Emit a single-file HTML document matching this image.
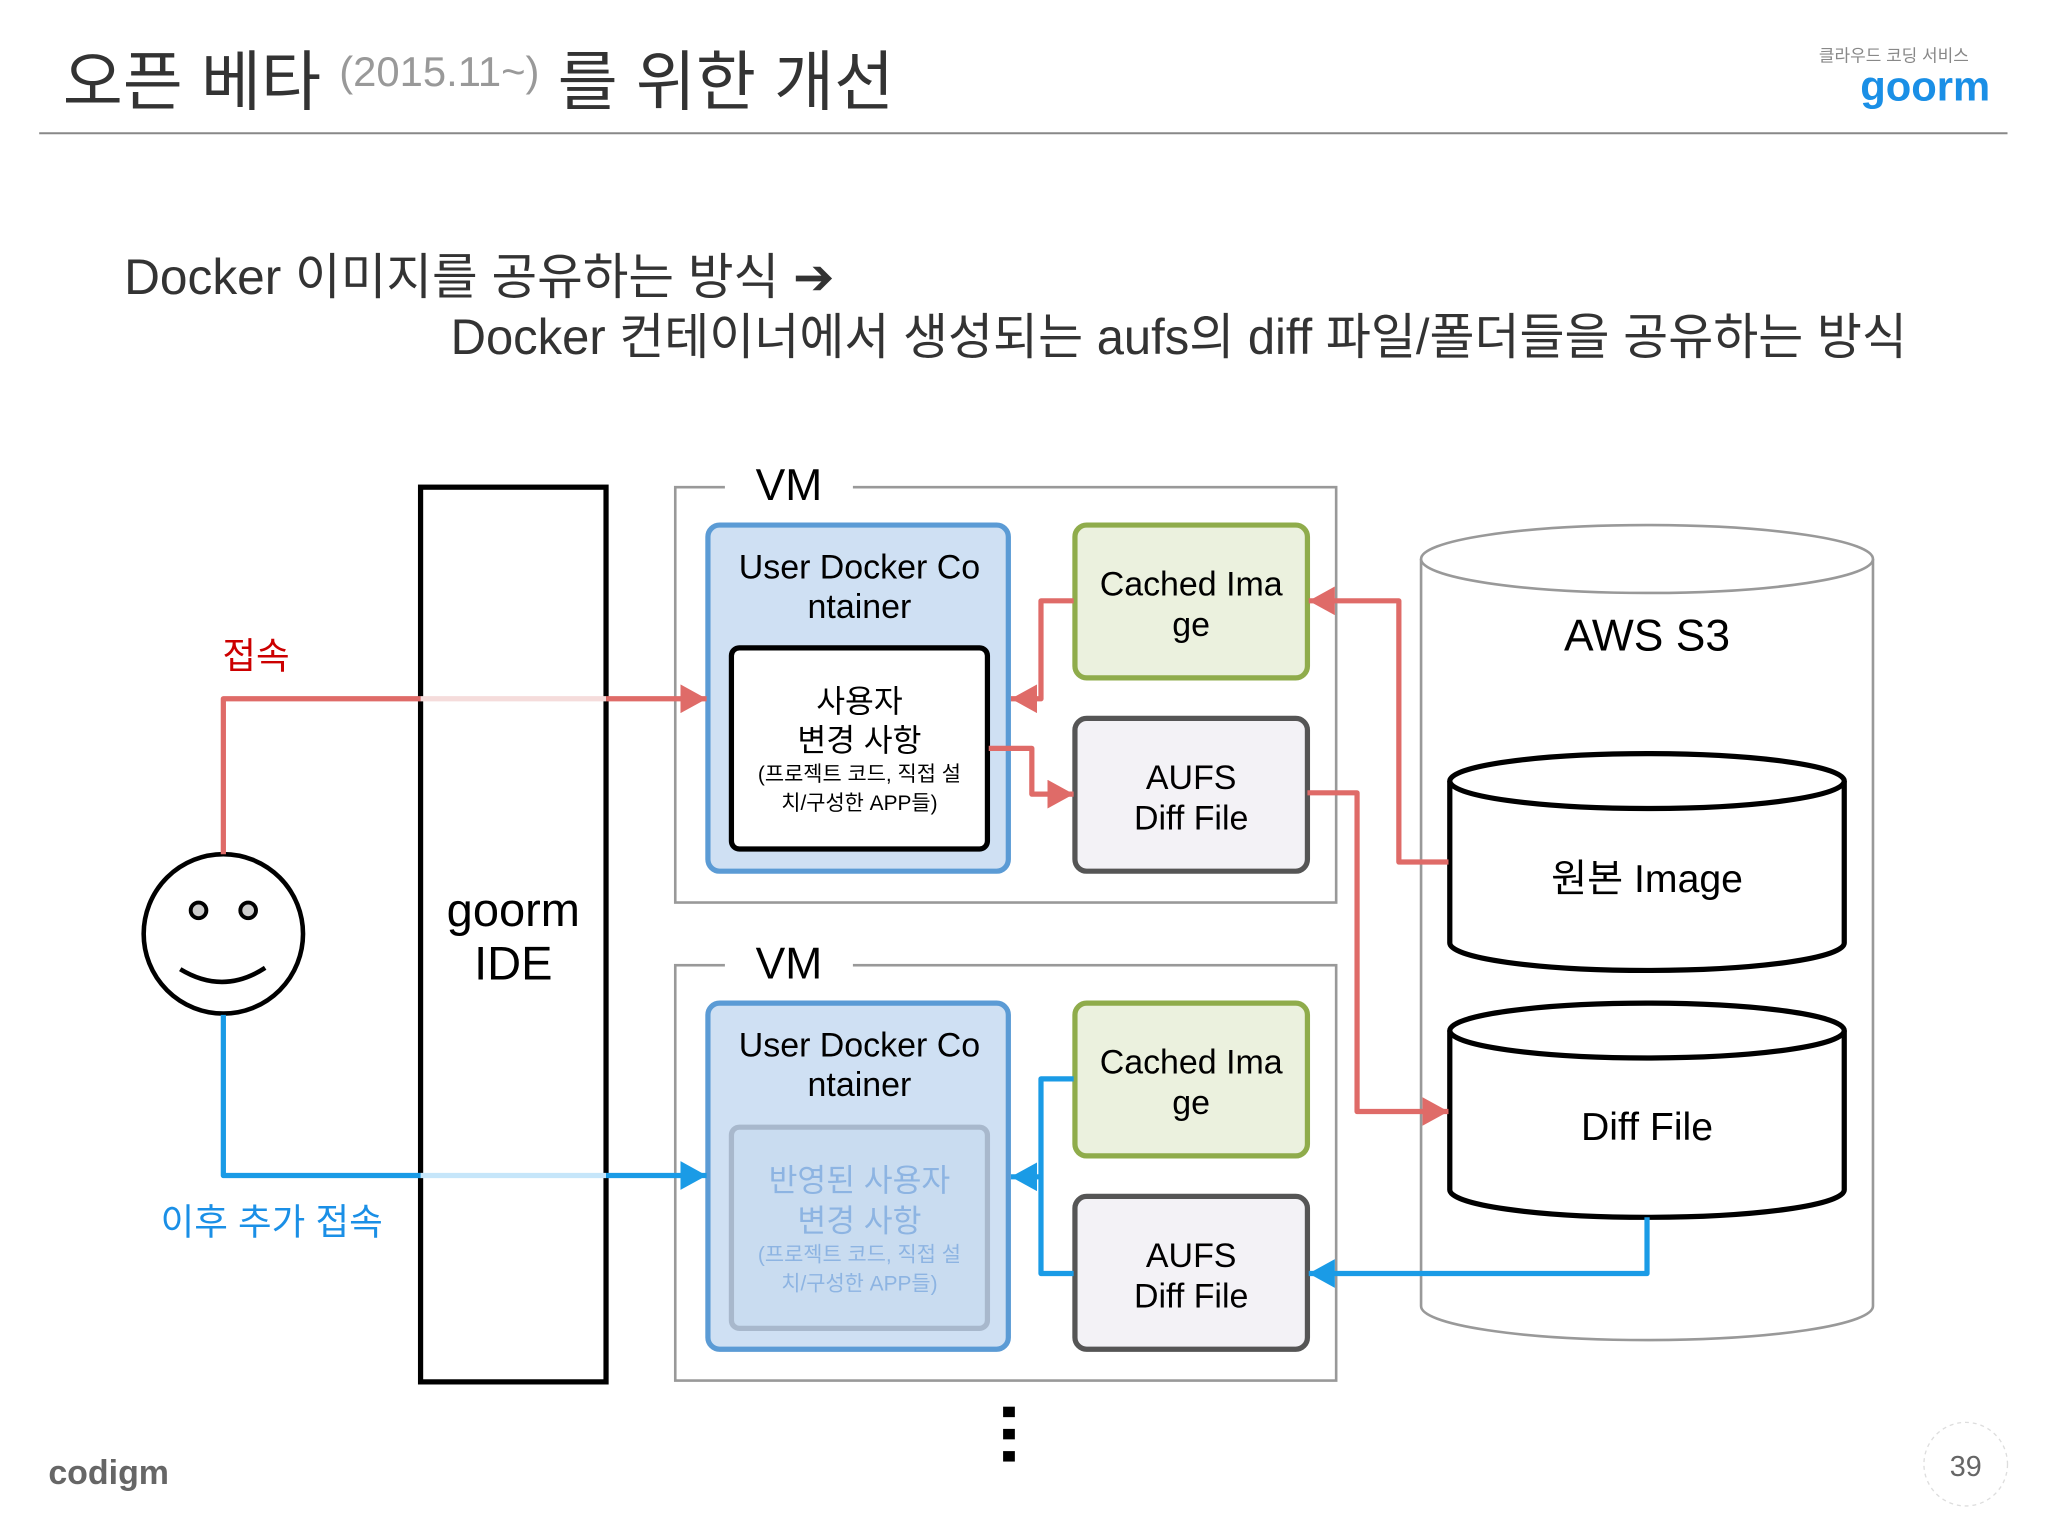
<!DOCTYPE html>
<html><head><meta charset="utf-8"><style>
html,body{margin:0;padding:0;background:#fff;}
svg{display:block;}
text{font-family:"Liberation Sans","Noto Sans CJK KR",sans-serif;}
</style></head><body>
<svg width="2048" height="1536" viewBox="0 0 1568 1176" xmlns="http://www.w3.org/2000/svg">
<defs>
<marker id="ar" markerWidth="5" markerHeight="5.5" refX="5" refY="2.75" orient="auto" markerUnits="strokeWidth"><path d="M0,0 L5,2.75 L0,5.5 z" fill="#df6b68"/></marker>
<marker id="ab" markerWidth="5" markerHeight="5.5" refX="5" refY="2.75" orient="auto" markerUnits="strokeWidth"><path d="M0,0 L5,2.75 L0,5.5 z" fill="#1a9be6"/></marker>
</defs>
<rect width="1568" height="1176" fill="#fff"/>
<!-- header -->
<text x="48" y="80" font-size="50" fill="#333">오픈 베타 <tspan font-size="32" fill="#999" dy="-14">(2015.11~)</tspan><tspan dy="14"> 를 위한 개선</tspan></text>
<line x1="30" y1="102" x2="1537" y2="102" stroke="#888" stroke-width="1.5"/>
<text x="1450" y="47" font-size="13" fill="#888" text-anchor="middle">클라우드 코딩 서비스</text>
<text x="1474" y="77" font-size="32" fill="#1a8fe6" font-weight="bold" text-anchor="middle">goorm</text>
<text x="95" y="225" font-size="38" fill="#333">Docker 이미지를 공유하는 방식 ➔</text>
<text x="345" y="271" font-size="38" fill="#333" textLength="1115" lengthAdjust="spacingAndGlyphs">Docker 컨테이너에서 생성되는 aufs의 diff 파일/폴더들을 공유하는 방식</text>

<!-- IDE -->
<rect x="322" y="373" width="142" height="685" fill="#fff" stroke="#000" stroke-width="4"/>
<text x="393" y="709" font-size="36" text-anchor="middle">goorm</text>
<text x="393" y="750" font-size="36" text-anchor="middle">IDE</text>

<!-- VM boxes -->
<rect x="517" y="373" width="506" height="318" fill="none" stroke="#999" stroke-width="2"/>
<rect x="555" y="350" width="98" height="40" fill="#fff"/>
<text x="604" y="383" font-size="34" text-anchor="middle">VM</text>
<rect x="517" y="739" width="506" height="318" fill="none" stroke="#999" stroke-width="2"/>
<rect x="555" y="716" width="98" height="40" fill="#fff"/>
<text x="604" y="749" font-size="34" text-anchor="middle">VM</text>

<!-- VM1 contents -->
<rect x="542" y="402" width="230" height="265" rx="9" fill="#cfe0f3" stroke="#5b9bd5" stroke-width="4"/>
<text x="658" y="443" font-size="26" text-anchor="middle">User Docker Co</text>
<text x="658" y="473" font-size="26" text-anchor="middle">ntainer</text>
<rect x="560" y="496" width="196" height="154" rx="6" fill="#fff" stroke="#000" stroke-width="4"/>
<text x="658" y="545" font-size="24" text-anchor="middle">사용자</text>
<text x="658" y="575" font-size="24" text-anchor="middle">변경 사항</text>
<text x="658" y="598" font-size="16" text-anchor="middle">(프로젝트 코드, 직접 설</text>
<text x="658" y="620" font-size="16" text-anchor="middle">치/구성한 APP들)</text>
<rect x="823" y="402" width="178" height="117" rx="9" fill="#ebf1de" stroke="#8fac4b" stroke-width="4"/>
<text x="912" y="456" font-size="26" text-anchor="middle">Cached Ima</text>
<text x="912" y="487" font-size="26" text-anchor="middle">ge</text>
<rect x="823" y="550" width="178" height="117" rx="9" fill="#f3f2f6" stroke="#555" stroke-width="4"/>
<text x="912" y="604" font-size="26" text-anchor="middle">AUFS</text>
<text x="912" y="635" font-size="26" text-anchor="middle">Diff File</text>

<!-- VM2 contents -->
<rect x="542" y="768" width="230" height="265" rx="9" fill="#cfe0f3" stroke="#5b9bd5" stroke-width="4"/>
<text x="658" y="809" font-size="26" text-anchor="middle">User Docker Co</text>
<text x="658" y="839" font-size="26" text-anchor="middle">ntainer</text>
<rect x="560" y="863" width="196" height="154" rx="6" fill="#c9dcf0" stroke="#a8b8cc" stroke-width="4"/>
<text x="658" y="912" font-size="24" text-anchor="middle" fill="#8db4e2">반영된 사용자</text>
<text x="658" y="943" font-size="24" text-anchor="middle" fill="#8db4e2">변경 사항</text>
<text x="658" y="966" font-size="16" text-anchor="middle" fill="#8db4e2">(프로젝트 코드, 직접 설</text>
<text x="658" y="988" font-size="16" text-anchor="middle" fill="#8db4e2">치/구성한 APP들)</text>
<rect x="823" y="768" width="178" height="117" rx="9" fill="#ebf1de" stroke="#8fac4b" stroke-width="4"/>
<text x="912" y="822" font-size="26" text-anchor="middle">Cached Ima</text>
<text x="912" y="853" font-size="26" text-anchor="middle">ge</text>
<rect x="823" y="916" width="178" height="117" rx="9" fill="#f3f2f6" stroke="#555" stroke-width="4"/>
<text x="912" y="970" font-size="26" text-anchor="middle">AUFS</text>
<text x="912" y="1001" font-size="26" text-anchor="middle">Diff File</text>

<!-- S3 -->
<path d="M1088,428 L1088,1000 A173,26 0 0 0 1434,1000 L1434,428" fill="#fff" stroke="#999" stroke-width="2"/>
<ellipse cx="1261" cy="428" rx="173" ry="26" fill="#fff" stroke="#999" stroke-width="2"/>
<text x="1261" y="498" font-size="34" text-anchor="middle">AWS S3</text>
<path d="M1110,598 L1110,722 A151,21 0 0 0 1412,722 L1412,598" fill="#fff" stroke="#000" stroke-width="4"/>
<ellipse cx="1261" cy="598" rx="151" ry="21" fill="#fff" stroke="#000" stroke-width="4"/>
<text x="1261" y="683" font-size="30" text-anchor="middle">원본 Image</text>
<path d="M1110,789 L1110,911 A151,21 0 0 0 1412,911 L1412,789" fill="#fff" stroke="#000" stroke-width="4"/>
<ellipse cx="1261" cy="789" rx="151" ry="21" fill="#fff" stroke="#000" stroke-width="4"/>
<text x="1261" y="873" font-size="30" text-anchor="middle">Diff File</text>

<!-- smiley -->
<circle cx="171" cy="715" r="61" fill="#fff" stroke="#000" stroke-width="3.5"/>
<circle cx="152" cy="697" r="6" fill="#ccc" stroke="#000" stroke-width="3"/>
<circle cx="190" cy="697" r="6" fill="#ccc" stroke="#000" stroke-width="3"/>
<path d="M138,742 Q171,762 203,741" fill="none" stroke="#000" stroke-width="3.5"/>

<!-- connections -->
<g fill="none" stroke-width="4" stroke-linejoin="round">
<path d="M171,654 L171,535 L322,535" stroke="#df6b68"/>
<line x1="322" y1="535" x2="464" y2="535" stroke="#f5dcdb"/>
<path d="M464,535 L541,535" stroke="#df6b68" marker-end="url(#ar)"/>
<path d="M822,460 L797,460 L797,535 L774,535" stroke="#df6b68" marker-end="url(#ar)"/>
<path d="M757,573 L790,573 L790,608 L822,608" stroke="#df6b68" marker-end="url(#ar)"/>
<path d="M1109,660 L1071,660 L1071,460 L1002,460" stroke="#df6b68" marker-end="url(#ar)"/>
<path d="M1001,607 L1039,607 L1039,851 L1109,851" stroke="#df6b68" marker-end="url(#ar)"/>
<path d="M171,777 L171,900 L322,900" stroke="#1a9be6"/>
<line x1="322" y1="900" x2="464" y2="900" stroke="#c6e6fa"/>
<path d="M464,900 L541,900" stroke="#1a9be6" marker-end="url(#ab)"/>
<path d="M822,826 L797,826 L797,975 L822,975" stroke="#1a9be6"/>
<path d="M797,901 L774,901" stroke="#1a9be6" marker-end="url(#ab)"/>
<path d="M1261,932 L1261,975 L1002,975" stroke="#1a9be6" marker-end="url(#ab)"/>
</g>
<text x="196" y="512" font-size="28" fill="#cc0000" text-anchor="middle">접속</text>
<text x="208" y="945" font-size="28" fill="#1a8fe6" text-anchor="middle">이후 추가 접속</text>

<!-- dots -->
<rect x="768" y="1077" width="9" height="8" fill="#000"/>
<rect x="768" y="1094" width="9" height="8" fill="#000"/>
<rect x="768" y="1111" width="9" height="8" fill="#000"/>

<!-- footer -->
<text x="37" y="1136" font-size="26" fill="#666" font-weight="bold">codigm</text>
<circle cx="1505" cy="1121" r="32" fill="none" stroke="#ddd" stroke-width="1" stroke-dasharray="3,3"/>
<text x="1505" y="1130" font-size="22" fill="#666" text-anchor="middle">39</text>
</svg>
</body></html>
